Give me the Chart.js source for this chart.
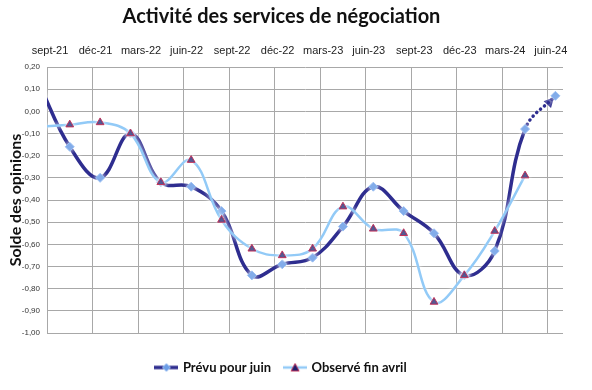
<!DOCTYPE html>
<html>
<head>
<meta charset="utf-8">
<script src="https://cdn.jsdelivr.net/npm/chart.js@4/dist/chart.umd.min.js"></script>
<style>
  html, body { margin: 0; padding: 0; background: #ffffff; }
  #wrap { width: 592px; height: 390px; position: relative; }
</style>
</head>
<body>
<div id="wrap"><canvas id="c" width="592" height="390"></canvas></div>
<script>
// ---- Data ----
const chartTitle = 'Activité des services de négociation';
const yAxisTitle = 'Solde des opinions';
const xTickLabels = ['sept-21','déc-21','mars-22','juin-22','sept-22','déc-22','mars-23','juin-23','sept-23','déc-23','mars-24','juin-24'];
// survey dates (year-month), one point every two months
const pointDates = ['2021-08','2021-10','2021-12','2022-02','2022-04','2022-06','2022-08','2022-10','2022-12',
                    '2023-02','2023-04','2023-06','2023-08','2023-10','2023-12','2024-02','2024-04','2024-06'];
const seriesNames = ['Prévu pour juin', 'Observé fin avril'];
const prevuValues  = [0.12, -0.16, -0.30, -0.10, -0.32, -0.34, -0.45, -0.74, -0.69, -0.66, -0.52, -0.34, -0.45, -0.55, -0.74, -0.63, -0.08, 0.07];
const observeValues = [-0.07, -0.06, -0.05, -0.10, -0.32, -0.22, -0.49, -0.62, -0.65, -0.62, -0.43, -0.53, -0.55, -0.86, -0.74, -0.54, -0.29];

// ---- Helpers ----
const AXIS_START = { year: 2021, month: 9 };
function monthIndex(s) {
  const [y, m] = s.split('-').map(Number);
  return (y - AXIS_START.year) * 12 + (m - AXIS_START.month) + 0.5; // mid-month
}
const DARK = '#2e2d8f';
const LIGHT = '#92caf7';
const DIAMOND_FILL = '#6c9de6';
const DIAMOND_BORDER = '#9cc0f2';
const TRI_FILL = '#1c1e6c';
const TRI_BORDER = '#c2355c';

const prevuData = prevuValues.map((v, i) => ({ x: monthIndex(pointDates[i]), y: v }));
const observeData = observeValues.map((v, i) => ({ x: monthIndex(pointDates[i]), y: v }));

function legendIcon(lineColor, lineW, kind) {
  const c = document.createElement('canvas');
  c.width = 24; c.height = 12;
  const g = c.getContext('2d');
  g.strokeStyle = lineColor; g.lineWidth = lineW;
  g.beginPath(); g.moveTo(0, 6); g.lineTo(24, 6); g.stroke();
  g.beginPath();
  if (kind === 'diamond') {
    g.moveTo(12, 2); g.lineTo(16, 6); g.lineTo(12, 10); g.lineTo(8, 6); g.closePath();
    g.fillStyle = DIAMOND_FILL; g.fill(); g.strokeStyle = DIAMOND_BORDER; g.lineWidth = 1; g.stroke();
  } else {
    g.moveTo(12, 2); g.lineTo(16, 9.5); g.lineTo(8, 9.5); g.closePath();
    g.fillStyle = TRI_FILL; g.fill(); g.strokeStyle = TRI_BORDER; g.lineWidth = 1; g.stroke();
  }
  return c;
}

const haloPlugin = {
  id: 'halo',
  beforeDatasetDraw(chart) {
    const c = chart.ctx; c.save();
    c.shadowColor = 'rgba(255,255,255,0.95)'; c.shadowBlur = 4;
  },
  afterDatasetDraw(chart) { chart.ctx.restore(); }
};

const arrowPlugin = {
  id: 'arrowHead',
  beforeDatasetDraw(chart, args) {
    if (args.index !== 0) return;
    const pts = chart.getDatasetMeta(0).data;
    const p1 = pts[pts.length - 1], p0 = pts[pts.length - 2];
    const dx = p1.x - p0.x, dy = p1.y - p0.y, L = Math.hypot(dx, dy);
    const ux = dx / L, uy = dy / L;
    const tipX = p1.x - ux * 2, tipY = p1.y - uy * 2;
    const bX = p1.x - ux * 12, bY = p1.y - uy * 12;
    const c = chart.ctx; c.save();
    c.fillStyle = DARK;
    c.beginPath();
    c.moveTo(tipX, tipY);
    c.lineTo(bX - uy * 5, bY + ux * 5);
    c.lineTo(bX + uy * 5, bY - ux * 5);
    c.closePath(); c.fill();
    c.restore();
  }
};

const lastIdx = prevuValues.length - 1;

new Chart(document.getElementById('c'), {
  type: 'line',
  data: {
    datasets: [
      {
        label: seriesNames[0],
        data: prevuData,
        borderColor: DARK,
        borderWidth: 3.5,
        tension: 0.4,
        pointStyle: 'rectRot',
        pointRadius: 4.5,
        pointBackgroundColor: DIAMOND_FILL,
        pointBorderColor: DIAMOND_BORDER,
        pointBorderWidth: 1,
        segment: {
          borderDash: ctx => ctx.p1DataIndex === lastIdx ? [0.1, 5] : undefined,
          borderCapStyle: ctx => ctx.p1DataIndex === lastIdx ? 'round' : 'butt'
        },
        order: 2
      },
      {
        label: seriesNames[1],
        data: observeData,
        borderColor: LIGHT,
        borderWidth: 2.5,
        tension: 0.4,
        pointStyle: 'triangle',
        pointRadius: 4.5,
        pointBackgroundColor: TRI_FILL,
        pointBorderColor: TRI_BORDER,
        pointBorderWidth: 1,
        order: 1
      }
    ]
  },
  options: {
    responsive: false,
    animation: false,
    events: [],
    layout: { padding: { left: 0, right: 29, top: 0, bottom: 6 } },
    plugins: {
      title: {
        display: true,
        text: chartTitle,
        color: '#111',
        font: { family: 'Lato', size: 20, weight: 'bold' },
        padding: { top: 5, bottom: 3 }
      },
      legend: {
        position: 'bottom',
        labels: {
          usePointStyle: true,
          pointStyleWidth: 20,
          padding: 14,
          color: '#111',
          font: { family: 'Lato', size: 13, weight: 'bold' },
          generateLabels: () => [
            { text: seriesNames[0], pointStyle: legendIcon(DARK, 3.5, 'diamond'), datasetIndex: 0, hidden: false, lineWidth: 0, fontColor: '#111' },
            { text: seriesNames[1], pointStyle: legendIcon(LIGHT, 2.5, 'triangle'), datasetIndex: 1, hidden: false, lineWidth: 0, fontColor: '#111' }
          ]
        }
      },
      tooltip: { enabled: false }
    },
    scales: {
      x: {
        type: 'linear',
        position: 'top',
        min: 0,
        max: 34,
        afterBuildTicks: s => { s.ticks = xTickLabels.map((_, i) => ({ value: i * 3 })); },
        afterFit: s => { s.height = 35; },
        ticks: {
          padding: 9,
          labelOffset: 3,
          maxRotation: 0,
          autoSkip: false,
          color: '#222',
          font: { family: 'Liberation Sans', size: 11 },
          callback: (v) => xTickLabels[Math.round(v / 3)]
        },
        grid: { color: '#a8a8a8', lineWidth: 1, drawTicks: false },
        border: { display: false }
      },
      spacer: {
        type: 'linear',
        axis: 'x',
        position: 'bottom',
        display: true,
        grid: { display: false },
        border: { display: false },
        ticks: { display: false },
        afterFit: s => { s.height = 14; }
      },
      y: {
        type: 'linear',
        min: -1,
        max: 0.2,
        afterFit: s => { s.width = 47; },
        ticks: {
          stepSize: 0.1,
          padding: 7,
          color: '#333',
          font: { family: 'Liberation Sans', size: 8 },
          callback: v => (Math.round(v * 100) / 100).toFixed(2).replace('.', ',')
        },
        title: {
          display: true,
          text: yAxisTitle,
          color: '#111',
          font: { family: 'Lato', size: 16, weight: 'bold' },
          padding: { top: 6, bottom: 0 }
        },
        grid: { color: '#a8a8a8', lineWidth: 1, drawTicks: false },
        border: { display: true, color: '#a8a8a8', width: 1 }
      }
    }
  },
  plugins: [haloPlugin, arrowPlugin]
});
</script>
</body>
</html>
